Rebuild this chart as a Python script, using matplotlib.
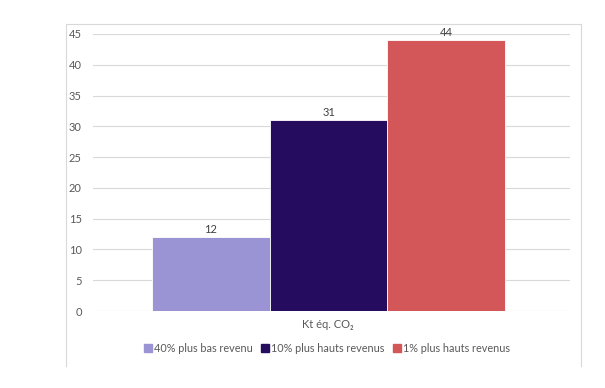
import matplotlib
matplotlib.use("Agg")
import matplotlib.pyplot as plt
from matplotlib.patches import Rectangle
from matplotlib.lines import Line2D

plt.rcParams['font.family'] = ['Lato', 'DejaVu Sans']

series = ["40% plus bas revenu", "10% plus hauts revenus", "1% plus hauts revenus"]
values = [12, 31, 44]
colors = ["#9A93D4", "#260C5E", "#D35658"]
category = "Kt éq. CO₂"
yticks = [0, 5, 10, 15, 20, 25, 30, 35, 40, 45]

W, H = 605, 388
fig = plt.figure(figsize=(W/100, H/100), dpi=100)

# outer frame (three sides, bottom cut off as in the reference)
fx0, fx1, fy0, fy1 = 66/W, 581/W, 1-366/H, 1-24/H
fig.add_artist(Line2D([fx0, fx0, fx1, fx1], [fy0, fy1, fy1, fy0],
                      transform=fig.transFigure, color="#D9D9D9", linewidth=0.8))

ax = fig.add_axes([93/W, 1-311/H, (570-93)/W, (311-34)/H])
xs = [0, 1, 2]
ax.bar(xs, values, width=1.0, color=colors, edgecolor="white", linewidth=0.6, zorder=3)
for x, v in zip(xs, values):
    ax.text(x, v + 0.3, str(v), ha="center", va="bottom", fontsize=8, color="#404040")

ax.set_xlim(-1.0, 3.05)
ax.set_ylim(0, 45)
ax.set_yticks(yticks)
ax.set_xticks([])
ax.tick_params(axis='y', length=0, labelsize=8, labelcolor="#595959", pad=8)
ax.grid(axis='y', color="#D9D9D9", linewidth=0.8, zorder=0)
for s in ax.spines.values():
    s.set_visible(False)

fig.text(328/W, 1-325/H, category, ha="center", va="center", fontsize=8, color="#595959")

handles = [Rectangle((0, 0), 1, 1, color=c) for c in colors]
fig.legend(handles, series, loc="center", bbox_to_anchor=(327/W, 1-348/H),
           ncol=3, frameon=False, fontsize=7.8, handlelength=0.7, handleheight=0.7,
           handletextpad=0.2, columnspacing=0.8, labelcolor="#595959")

fig.savefig("out.png", dpi=100)
